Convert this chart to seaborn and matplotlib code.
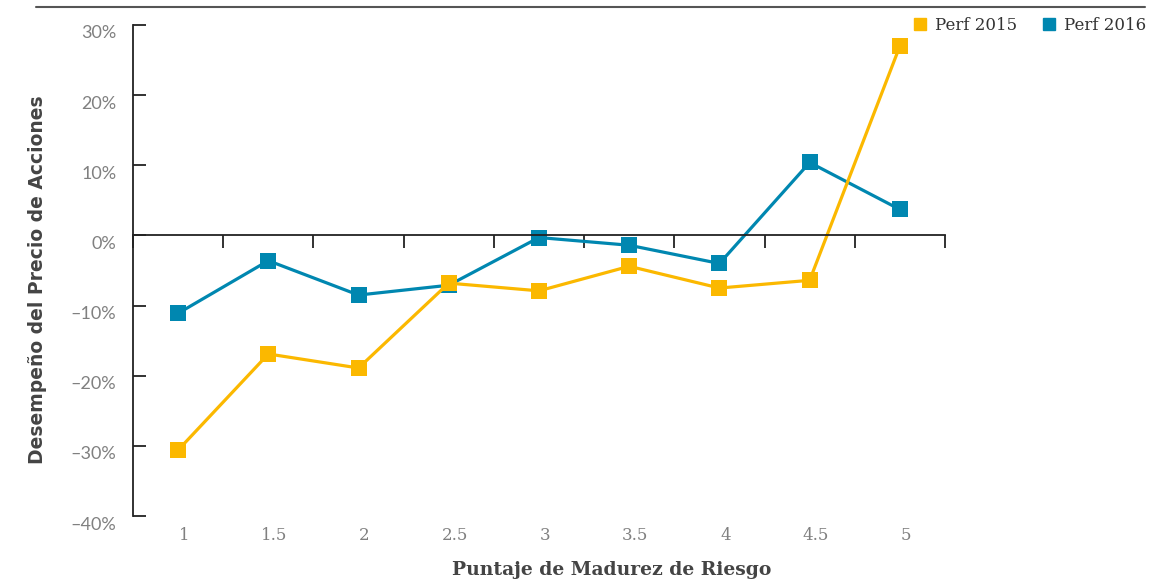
import matplotlib
matplotlib.use("Agg")
import matplotlib.pyplot as plt
import matplotlib.transforms as mtransforms
from matplotlib.lines import Line2D
import seaborn as sns
import pandas as pd

scores = ["1", "1.5", "2", "2.5", "3", "3.5", "4", "4.5", "5"]
perf_2015 = [-30.6, -16.9, -18.9, -6.8, -7.9, -4.4, -7.5, -6.4, 27.0]
perf_2016 = [-11.1, -3.6, -8.5, -7.1, -0.3, -1.4, -4.0, 10.4, 3.7]
y_ticks = [-40, -30, -20, -10, 0, 10, 20, 30]
series_names = ["Perf 2015", "Perf 2016"]

c2015 = "#FBB800"
c2016 = "#0087B0"

sns.set_theme(style="white")
plt.rcParams["font.family"] = ["Lato", "DejaVu Sans"]

df = pd.DataFrame({"pos": list(range(len(scores))) * 2,
                   "val": perf_2015 + perf_2016,
                   "serie": [series_names[0]] * len(scores) + [series_names[1]] * len(scores)})

fig = plt.figure(figsize=(11.66, 5.81), dpi=100)
ax = fig.add_axes([133/1166, 1 - 516/581, (945-133)/1166, (516-25)/581])

sns.lineplot(data=df[df.serie == "Perf 2016"], x="pos", y="val", ax=ax, color=c2016,
             marker="s", markersize=12, markeredgewidth=0, linewidth=2.3, legend=False)
sns.lineplot(data=df[df.serie == "Perf 2015"], x="pos", y="val", ax=ax, color=c2015,
             marker="s", markersize=12, markeredgewidth=0, linewidth=2.3, legend=False)

ax.set_xlim(-0.5, len(scores) - 0.5)
ax.set_ylim(-40, 30)

for s in ["top", "right"]:
    ax.spines[s].set_visible(False)
ax.spines["left"].set_color("#222222")
ax.spines["left"].set_linewidth(1.3)
ax.spines["bottom"].set_position(("data", 0))
ax.spines["bottom"].set_color("#222222")
ax.spines["bottom"].set_linewidth(1.3)

# boundary ticks on zero axis
ax.set_xticks([i - 0.5 for i in range(len(scores) + 1)])
ax.set_xticklabels([])
ax.tick_params(axis="x", direction="out", length=9, width=1.3, color="#222222", bottom=True)

# category labels at the bottom
sec = ax.secondary_xaxis(0)
sec.set_xticks(list(range(len(scores))))
sec.set_xticklabels(scores)
sec.spines["bottom"].set_visible(False)
sec.tick_params(length=0, pad=8, labelsize=12, labelcolor="#808080")
xoff = mtransforms.ScaledTranslation(6/100, 0, fig.dpi_scale_trans)
for lab in sec.get_xticklabels():
    lab.set_fontfamily(["DejaVu Serif"])
    lab.set_transform(lab.get_transform() + xoff)

ax.set_yticks(y_ticks)
ax.set_yticklabels([f"{v}%".replace("-", "–") for v in y_ticks])
ax.tick_params(axis="y", direction="in", length=9, width=1.3, color="#222222",
               left=True, pad=12, labelsize=13, labelcolor="#808080")
off = mtransforms.ScaledTranslation(0, -7/100, fig.dpi_scale_trans)
for lab in ax.get_yticklabels():
    lab.set_transform(lab.get_transform() + off)
    lab.set_color("#808080")

ax.set_xlabel("")
ax.set_ylabel("")
fig.text(612/1166, 1 - 570/581, "Puntaje de Madurez de Riesgo", ha="center", va="center",
         fontsize=13.5, fontweight="bold", color="#444444", family=["DejaVu Serif"])
fig.text(38/1166, 1 - 280/581, "Desempeño del Precio de Acciones", ha="center", va="center",
         rotation=90, fontsize=13.5, fontweight="bold", color="#444444", family=["DejaVu Sans"])

# top rule
fig.add_artist(Line2D([36/1166, 1145/1166], [1 - 7/581, 1 - 7/581], transform=fig.transFigure,
                      color="#555555", linewidth=1.5))

handles = [Line2D([], [], color=c2015, marker="s", linestyle="none", markersize=9),
           Line2D([], [], color=c2016, marker="s", linestyle="none", markersize=9)]
fig.legend(handles, series_names, loc="center right", bbox_to_anchor=(1161/1166, 1 - 25/581),
           ncol=2, frameon=False, handlelength=0.8, handletextpad=0.5, columnspacing=1.5,
           prop={"family": "DejaVu Serif", "size": 12}, labelcolor="#333333")

fig.savefig("out.png", dpi=100)
